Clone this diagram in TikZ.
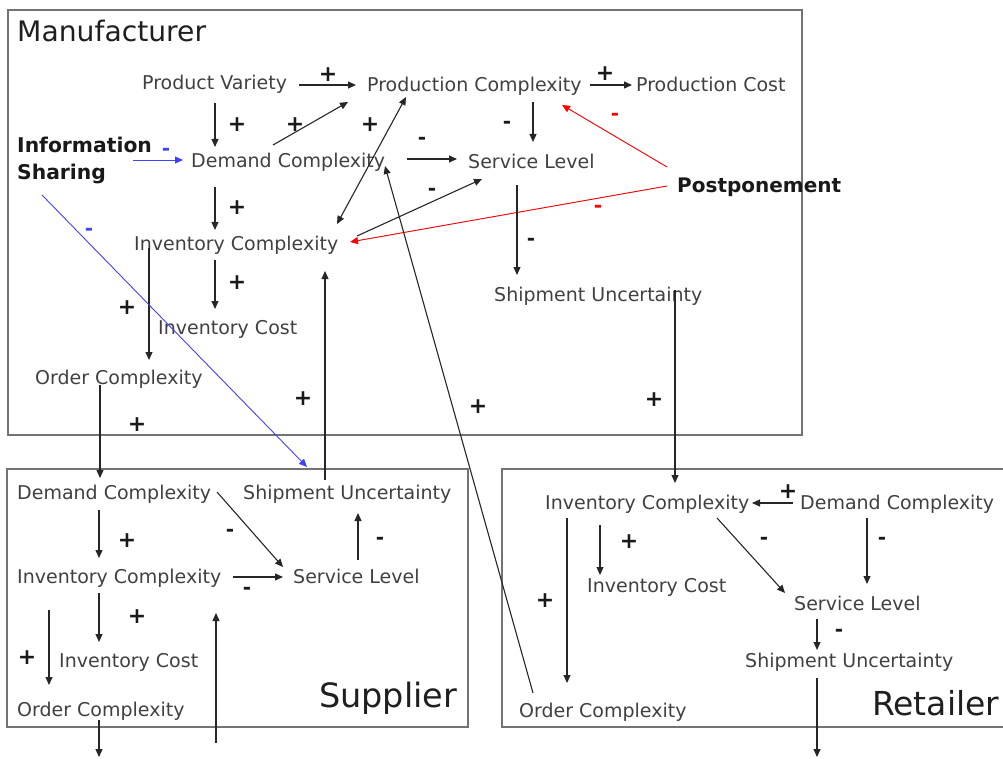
\documentclass[tikz,border=0pt]{standalone}
\usepackage{fontspec}
\setmainfont{DejaVu Sans}
\usetikzlibrary{arrows.meta,calc}

\tikzset{
  var/.style={anchor=west, inner sep=0pt, text=black!75, text height=13.9pt, text depth=0pt,
    font=\fontsize{19}{22}\selectfont},
  keyvar/.style={anchor=west, inner sep=0pt, text=black!90, text height=14.6pt, text depth=0pt,
    font=\bfseries\fontsize{20}{24}\selectfont},
  title/.style={anchor=base west, inner sep=0pt, text=black!88},
  frame/.style={draw=black!55, line width=1.6pt},
  arrowtip/.tip={Triangle[length=8pt,width=7pt]},
  arr/.style={-arrowtip, line width=1.1pt, draw=black!85},
  twoway/.style={arrowtip-arrowtip, line width=1.1pt, draw=black!85},
  redarr/.style={-arrowtip, line width=0.9pt, draw=red, fill=red},
  bluearr/.style={-arrowtip, line width=0.9pt, draw=blue!75},
  plussign/.style={inner sep=0pt, text=black!90, font=\bfseries\fontsize{22}{22}\selectfont},
  minussign/.style={inner sep=0pt, yshift=-2pt, text=black!90, font=\bfseries\fontsize{20}{20}\selectfont},
}

\begin{document}
\begin{tikzpicture}[x=1pt,y=-1pt]
\useasboundingbox (0,0) rectangle (1003,759);

% ---------- frames ----------
\draw[frame] (8,10) rectangle (802,435);
\draw[frame] (7,469) rectangle (468,727);
\draw[frame] (1010,469) -- (502,469) -- (502,727) -- (1010,727);

% ---------- manufacturer ----------
\node[title, font=\fontsize{28.2}{30}\selectfont] (mtitle) at (17,42) {Manufacturer};
\node[var] (pv) at (142,83) {Product Variety};
\node[var] (pc) at (367,85) {Production Complexity};
\node[var] (pcost) at (636,85) {Production Cost};
\node[anchor=west, inner sep=0pt, align=left, text=black!90,
      font=\bfseries\fontsize{20.3}{27}\selectfont] (info) at (17,160) {Information\\Sharing};
\node[var] (mdc) at (191,161) {Demand Complexity};
\node[var] (msl) at (468,162) {Service Level};
\node[keyvar] (post) at (677,185) {Postponement};
\node[var] (mic) at (134,244) {Inventory Complexity};
\node[var] (micost) at (158,328) {Inventory Cost};
\node[var] (msu) at (494,295) {Shipment Uncertainty};
\node[var] (moc) at (35,378) {Order Complexity};

% ---------- supplier ----------
\node[title, font=\fontsize{33.5}{36}\selectfont] (stitle) at (319,707) {Supplier};
\node[var] (sdc) at (17,493) {Demand Complexity};
\node[var] (ssu) at (243,493) {Shipment Uncertainty};
\node[var] (sic) at (17,577) {Inventory Complexity};
\node[var] (ssl) at (293,577) {Service Level};
\node[var] (sicost) at (59,661) {Inventory Cost};
\node[var] (soc) at (17,710) {Order Complexity};
\coordinate (sout) at (99,757);
\coordinate (sin) at (216,743);

% ---------- retailer ----------
\node[title, font=\fontsize{33}{36}\selectfont] (rtitle) at (872,715) {Retailer};
\node[var] (ric) at (545,503) {Inventory Complexity};
\node[var] (rdc) at (800,503) {Demand Complexity};
\node[var] (ricost) at (587,586) {Inventory Cost};
\node[var] (rsl) at (794,604) {Service Level};
\node[var] (rsu) at (745,661) {Shipment Uncertainty};
\node[var] (roc) at (519,711) {Order Complexity};
\coordinate (rout) at (817,757);

% ---------- manufacturer links ----------
\draw[arr] ($(pv.west)+(157,2)$) -- ($(pc.west)+(-11,0)$);
\draw[arr] ($(pc.west)+(223,0)$) -- ($(pcost.west)+(-4,0)$);
\draw[arr] ($(pv.west)+(73,20)$) -- ($(mdc.west)+(24,-14)$);
\draw[arr] ($(mdc.west)+(82,-16)$) -- ($(pc.west)+(-19,17)$);
\draw[twoway] ($(pc.west)+(39,12)$) -- ($(mic.west)+(203,-20)$);
\draw[bluearr] ($(info.west)+(116,0)$) -- ($(mdc.west)+(-8,-1)$);
\draw[arr] ($(mdc.west)+(24,26)$) -- ($(mic.west)+(81,-14)$);
\draw[arr] ($(mdc.west)+(216,-2)$) -- ($(msl.west)+(-11,-3)$);
\draw[arr] ($(pc.west)+(166,17)$) -- ($(msl.west)+(65,-20)$);
\draw[arr] ($(mic.west)+(223,-8)$) -- ($(msl.west)+(14,17)$);
\draw[redarr] ($(post.west)+(-10,-18)$) -- ($(pc.west)+(195,20)$);
\draw[redarr] ($(post.west)+(-10,1)$) -- ($(mic.west)+(216,-2)$);
\draw[arr] ($(msl.west)+(49,23)$) -- ($(msu.west)+(23,-20)$);
\draw[arr] ($(mic.west)+(81,16)$) -- ($(micost.west)+(57,-19)$);
\draw[arr] ($(mic.west)+(15,4)$) -- ($(moc.west)+(114,-18)$);

% ---------- links between partners ----------
\draw[bluearr] ($(info.west)+(25,35)$) -- ($(ssu.west)+(64,-26)$);
\draw[arr] ($(ssu.west)+(82,-13)$) -- ($(mic.west)+(191,27)$);
\draw[arr] ($(roc.west)+(14,-18)$) -- ($(mdc.west)+(194,5)$);
\draw[arr] ($(msu.west)+(181,-5)$) -- ($(ric.west)+(130,-20)$);
\draw[arr] ($(moc.west)+(65,7)$) -- ($(sdc.west)+(83,-15)$);

% ---------- supplier links ----------
\draw[arr] ($(sdc.west)+(82,17)$) -- ($(sic.west)+(82,-19)$);
\draw[arr] ($(sdc.west)+(200,-1)$) -- ($(ssl.west)+(-10,-10)$);
\draw[arr] ($(sic.west)+(216,0)$) -- ($(ssl.west)+(-10,0)$);
\draw[arr] ($(ssl.west)+(65,-17)$) -- ($(ssu.west)+(115,20)$);
\draw[arr] ($(sic.west)+(82,16)$) -- ($(sicost.west)+(40,-19)$);
\draw[arr] ($(sic.west)+(32,33)$) -- ($(soc.west)+(32,-25)$);
\draw[arr] ($(soc.west)+(82,10)$) -- (sout);
\draw[arr] (sin) -- ($(sic.west)+(199,36)$);

% ---------- retailer links ----------
\draw[arr] ($(rdc.west)+(-7,0)$) -- ($(ric.west)+(207,0)$);
\draw[arr] ($(ric.west)+(55,22)$) -- ($(ricost.west)+(13,-11)$);
\draw[arr] ($(ric.west)+(22,15)$) -- ($(roc.west)+(48,-28)$);
\draw[arr] ($(ric.west)+(172,15)$) -- ($(rsl.west)+(-9,-11)$);
\draw[arr] ($(rdc.west)+(67,15)$) -- ($(rsl.west)+(73,-20)$);
\draw[arr] ($(rsl.west)+(23,15)$) -- ($(rsu.west)+(72,-11)$);
\draw[arr] ($(rsu.west)+(72,17)$) -- (rout);

% ---------- polarity signs ----------
\node[plussign] (s1) at (328,75) {+};
\node[plussign] (s2) at (605,74) {+};
\node[plussign] (s3) at (237,125) {+};
\node[plussign] (s4) at (295,125) {+};
\node[plussign] (s5) at (370,125) {+};
\node[minussign, text=blue!75] (s6) at (166,150) {-};
\node[plussign] (s7) at (237,208) {+};
\node[minussign] (s8) at (422,139) {-};
\node[minussign] (s9) at (507,123) {-};
\node[minussign, text=red] (s10) at (615,115) {-};
\node[minussign] (s11) at (432,190) {-};
\node[minussign, text=red] (s12) at (598,207) {-};
\node[minussign] (s13) at (531,240) {-};
\node[plussign] (s14) at (237,283) {+};
\node[plussign] (s15) at (127,308) {+};
\node[minussign, text=blue!75] (s16) at (89,230) {-};
\node[plussign] (s17) at (303,399) {+};
\node[plussign] (s18) at (478,407) {+};
\node[plussign] (s19) at (654,400) {+};
\node[plussign] (s20) at (137,425) {+};

\node[plussign] (s21) at (127,541) {+};
\node[minussign] (s22) at (230,531) {-};
\node[minussign] (s23) at (247,589) {-};
\node[minussign] (s24) at (380,539) {-};
\node[plussign] (s25) at (137,617) {+};
\node[plussign] (s26) at (27,658) {+};

\node[plussign] (s29) at (788,492) {+};
\node[plussign] (s30) at (629,542) {+};
\node[plussign] (s31) at (545,601) {+};
\node[minussign] (s32) at (764,539) {-};
\node[minussign] (s33) at (882,539) {-};
\node[minussign] (s34) at (839,631) {-};
\end{tikzpicture}
\end{document}
